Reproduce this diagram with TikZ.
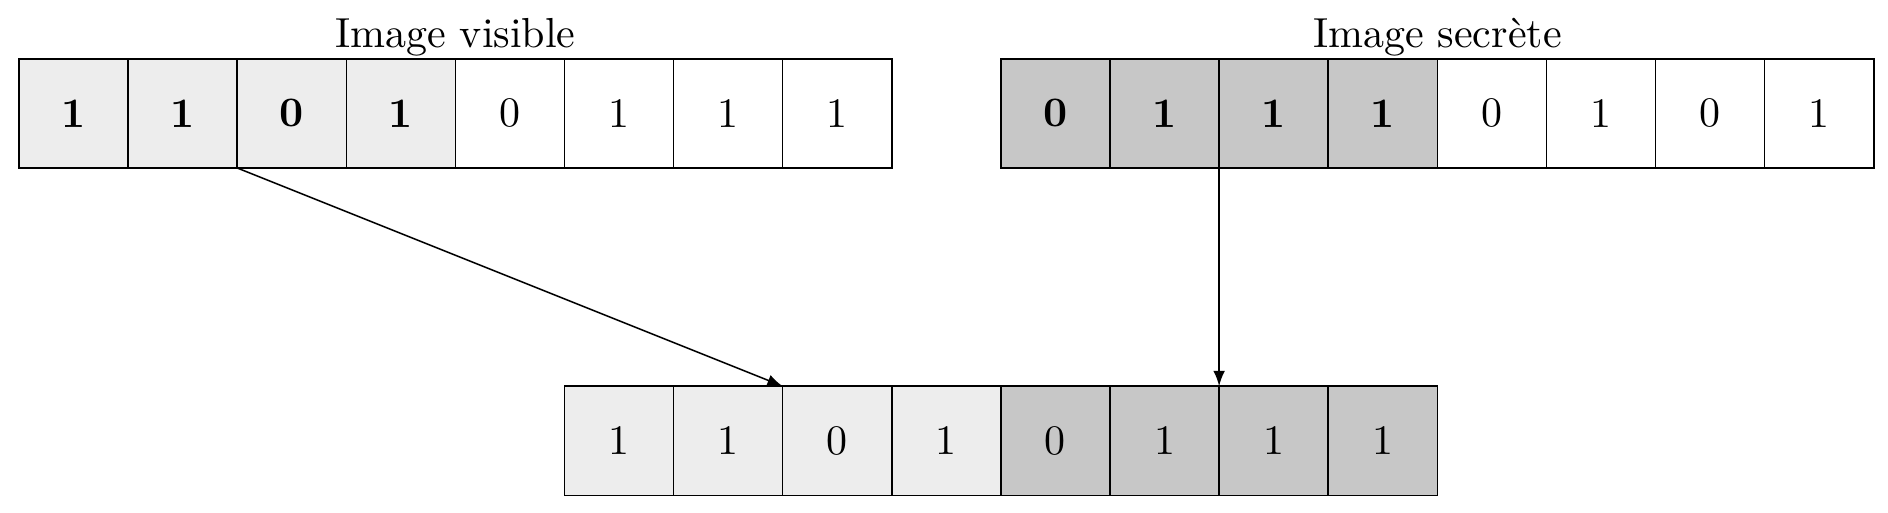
\documentclass[tikz,border=0pt]{standalone}
\tikzset{
  bit/.style={draw, minimum size=1cm, inner sep=0pt, outer sep=0pt},
  visfill/.style={fill=black!7},
  secfill/.style={fill=black!22},
}
\begin{document}
\begin{tikzpicture}[font=\fontsize{10.95}{13.6}\selectfont, >=latex]
  \useasboundingbox (-0.174,-3.156) rectangle (17.131,1.54);

  % image visible
  \foreach \b/\f [count=\i] in {\textbf{1}/visfill,\textbf{1}/visfill,\textbf{0}/visfill,\textbf{1}/visfill,0/bit,1/bit,1/bit,1/bit}
    \node[bit,\f] (v\i) at (\i-0.5,0.5) {\b};
  % image secrete
  \foreach \b/\f [count=\i] in {\textbf{0}/secfill,\textbf{1}/secfill,\textbf{1}/secfill,\textbf{1}/secfill,0/bit,1/bit,0/bit,1/bit}
    \node[bit,\f] (s\i) at (\i+8.5,0.5) {\b};
  % resultat
  \foreach \b/\f [count=\i] in {1/visfill,1/visfill,0/visfill,1/visfill,0/secfill,1/secfill,1/secfill,1/secfill}
    \node[bit,\f] (r\i) at (\i+4.5,-2.5) {\b};

  \node[anchor=base] (vtitle) at (4,1.1) {Image visible};
  \node[anchor=base] (stitle) at (13,1.1) {Image secrète};

  \draw[->] (v3.south west) to (r3.north west);
  \draw[->] (s3.south west) to (r7.north west);
\end{tikzpicture}
\end{document}
